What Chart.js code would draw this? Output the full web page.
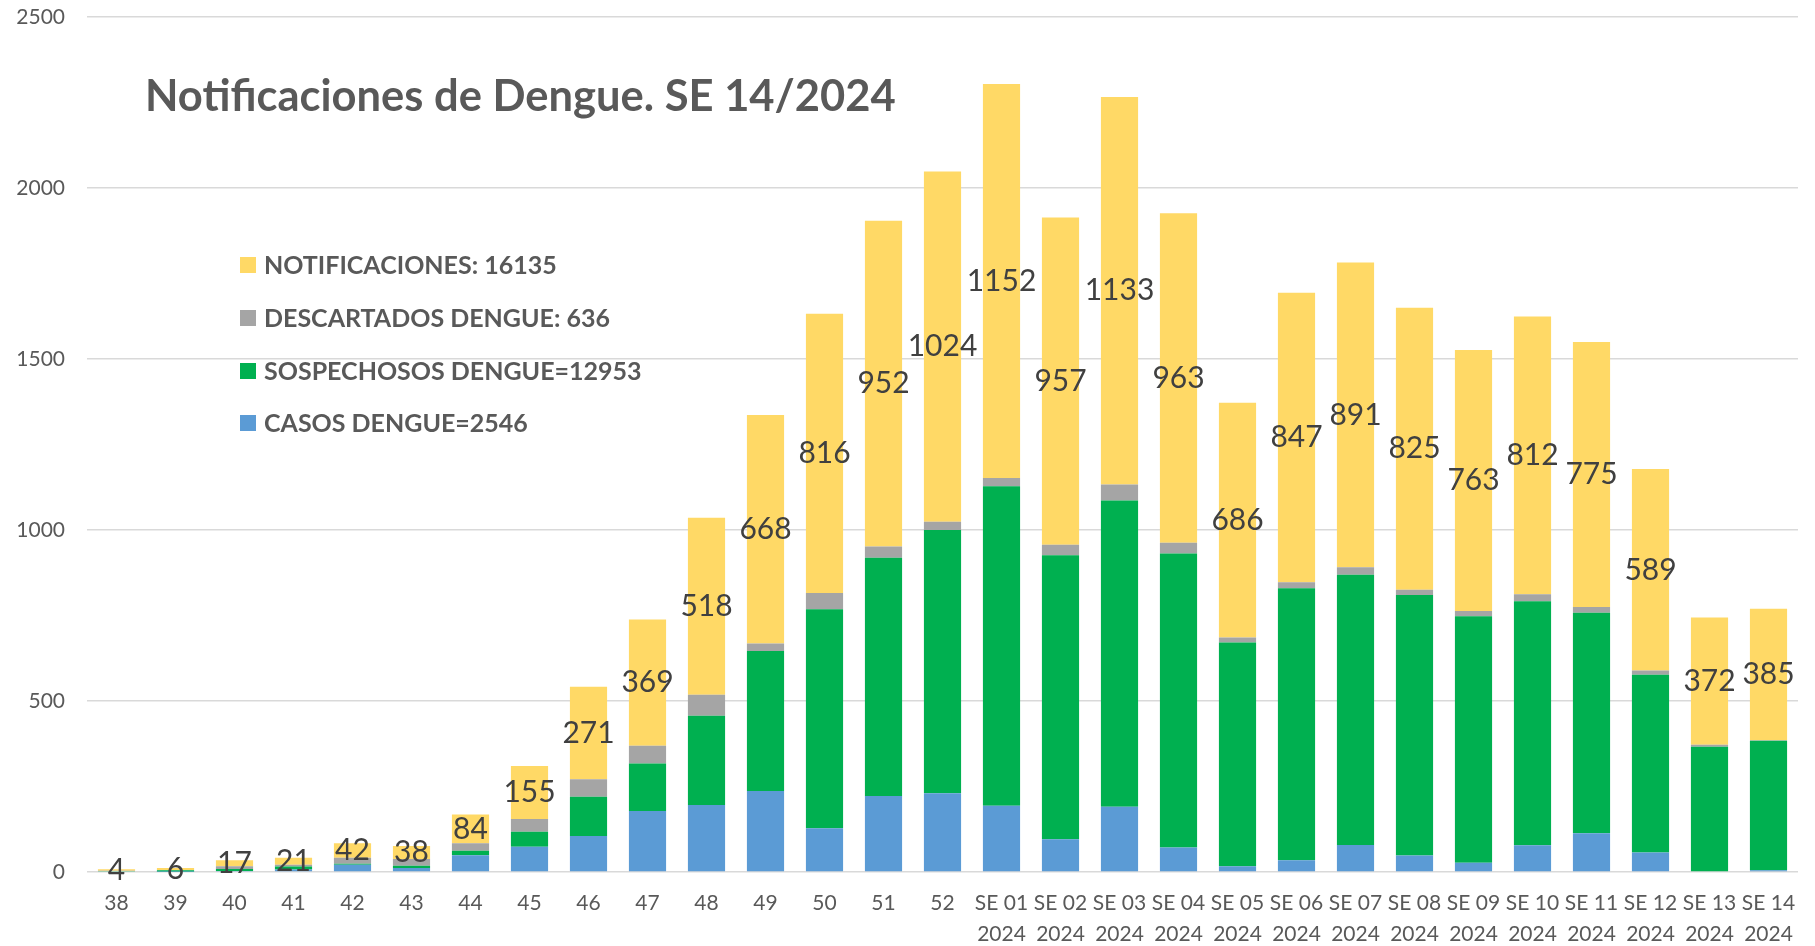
<!DOCTYPE html>
<html><head><meta charset="utf-8">
<script src="https://cdn.jsdelivr.net/npm/chart.js@4.4.1/dist/chart.umd.min.js"></script>
<style>html,body{margin:0;padding:0;background:#fff;overflow:hidden}</style>
</head><body>
<canvas id="c" width="1815" height="946"></canvas>
<script>
// ---- DATA ----
const categories = [
  ['38'],['39'],['40'],['41'],['42'],['43'],['44'],['45'],['46'],['47'],['48'],['49'],['50'],['51'],['52'],
  ['SE 01','2024'],['SE 02','2024'],['SE 03','2024'],['SE 04','2024'],['SE 05','2024'],['SE 06','2024'],
  ['SE 07','2024'],['SE 08','2024'],['SE 09','2024'],['SE 10','2024'],['SE 11','2024'],['SE 12','2024'],
  ['SE 13','2024'],['SE 14','2024']
];
const casos          = [0,1,3,7,21,12,49,74,105,178,196,237,128,222,230,194,96,191,72,17,34,79,48,27,78,113,57,2,5];
const sospechosos    = [3,4,6,9,3,6,13,44,115,139,261,409,640,697,770,934,830,895,859,654,796,790,762,721,714,645,520,364,379];
const descartados    = [1,1,8,5,18,20,22,37,51,52,61,22,48,33,24,24,31,47,32,15,17,22,15,15,20,17,12,6,1];
const notificaciones = [4,6,17,21,42,38,84,155,271,369,518,668,816,952,1024,1152,957,1133,963,686,847,891,825,763,812,775,589,372,385];
const yTicks = [0,500,1000,1500,2000,2500];
const titleText = 'Notificaciones de Dengue. SE 14/2024';
const labelCasos = 'CASOS DENGUE=2546';
const labelSosp = 'SOSPECHOSOS DENGUE=12953';
const labelDesc = 'DESCARTADOS DENGUE: 636';
const labelNotif = 'NOTIFICACIONES: 16135';

// ---- STYLE ----
const FONT = 'Lato, "Open Sans", sans-serif';
const TEXT_GREY = '#595959';

const overlayPlugin = {
  id: 'overlay',
  afterDatasetsDraw(chart) {
    const ctx = chart.ctx;
    ctx.save();
    // data labels on the yellow (notificaciones) segments
    const yellowIdx = chart.data.datasets.length - 1;
    const meta = chart.getDatasetMeta(yellowIdx);
    ctx.font = '30px ' + FONT;
    ctx.fillStyle = '#404040';
    ctx.textAlign = 'center';
    ctx.textBaseline = 'middle';
    meta.data.forEach((el, i) => {
      const v = chart.data.datasets[yellowIdx].data[i];
      ctx.fillText(String(v), el.x, (el.y + el.base) / 2);
    });
    // title
    ctx.font = 'bold 43.5px ' + FONT;
    ctx.fillStyle = TEXT_GREY;
    ctx.textAlign = 'left';
    ctx.textBaseline = 'alphabetic';
    ctx.fillText(titleText, 145, 111);
    // legend (reverse order)
    const ds = chart.data.datasets.slice().reverse();
    const rows = [265, 318, 371, 423];
    ctx.font = 'bold 25px ' + FONT;
    ctx.textBaseline = 'middle';
    ds.forEach((d, i) => {
      ctx.fillStyle = d.backgroundColor;
      ctx.fillRect(240, rows[i] - 8, 16, 16);
      ctx.fillStyle = TEXT_GREY;
      ctx.fillText(d.label, 264, rows[i] + 1);
    });
    ctx.restore();
  }
};

new Chart(document.getElementById('c'), {
  type: 'bar',
  data: {
    labels: categories,
    datasets: [
      { label: labelCasos, data: casos, backgroundColor: '#5B9BD5' },
      { label: labelSosp, data: sospechosos, backgroundColor: '#00B050' },
      { label: labelDesc, data: descartados, backgroundColor: '#A5A5A5' },
      { label: labelNotif, data: notificaciones, backgroundColor: '#FFD966' }
    ]
  },
  options: {
    responsive: false,
    animation: false,
    devicePixelRatio: 1,
    layout: { padding: { top: 17, right: 17, left: 0, bottom: 0 } },
    datasets: { bar: { categoryPercentage: 1, barPercentage: 0.63, borderWidth: 0 } },
    plugins: { legend: { display: false }, tooltip: { enabled: false }, title: { display: false } },
    scales: {
      x: {
        stacked: true,
        grid: { display: false },
        border: { display: false },
        ticks: { color: TEXT_GREY, font: { family: FONT, size: 21, lineHeight: 1.48 }, padding: 8, maxRotation: 0, autoSkip: false },
        afterFit(scale) { scale.height = 74; scale.paddingTop = 0; }
      },
      y: {
        stacked: true,
        min: 0, max: 2500,
        afterBuildTicks(scale) { scale.ticks = yTicks.map(v => ({ value: v })); },
        grid: { color: '#D9D9D9', lineWidth: 1.5, drawTicks: false },
        border: { display: false },
        ticks: { color: TEXT_GREY, font: { family: FONT, size: 21 }, padding: 22, callback: (v) => String(v) },
        afterFit(scale) { scale.width = 87; scale.paddingTop = 0; scale.paddingBottom = 0; }
      }
    }
  },
  plugins: [overlayPlugin]
});
</script>
</body></html>
